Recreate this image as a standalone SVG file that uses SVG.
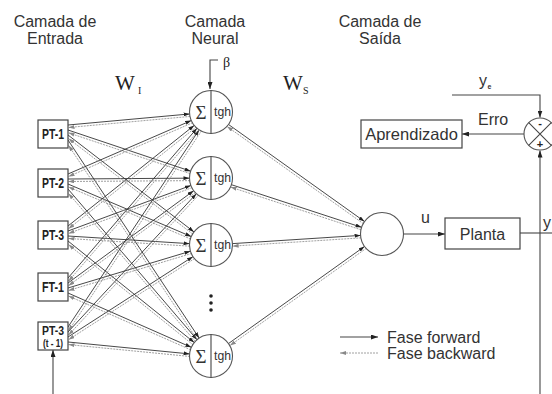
<svg xmlns="http://www.w3.org/2000/svg" width="552" height="394" viewBox="0 0 552 394">
<style>
.t{font-family:"Liberation Sans",Arial,sans-serif;fill:#333;font-size:16px}
.c{text-anchor:middle}
.box{fill:#fff;stroke:#444;stroke-width:1.2}
.lb{font-family:"Liberation Sans",Arial,sans-serif;font-weight:bold;fill:#222;text-anchor:middle}
.f{stroke:#333;stroke-width:0.9;fill:none;marker-end:url(#mf)}
.b{stroke:#888;stroke-width:0.8;stroke-dasharray:2 1;fill:none;marker-end:url(#mb)}
.bo{stroke:#888;stroke-width:0.8;stroke-dasharray:2 1;fill:none;marker-end:url(#mbo)}
.ln{stroke:#444;stroke-width:1.1;fill:none}
.ar{marker-end:url(#ah)}
.neu{fill:#fff;stroke:#555;stroke-width:1.1}
.sig{font-family:"Liberation Serif","Times New Roman",serif;font-size:19px;fill:#333;text-anchor:middle}
.tgh{font-family:"Liberation Sans",Arial,sans-serif;font-size:12px;fill:#333}
.w{font-family:"Liberation Serif","Times New Roman",serif;fill:#222}
</style>
<defs>
<marker id="mf" markerUnits="userSpaceOnUse" markerWidth="6" markerHeight="4" viewBox="0 0 6 4" refX="27.5" refY="2" orient="auto"><path d="M0,0 L6,2 L0,4 z" fill="#222"/></marker>
<marker id="mbo" markerUnits="userSpaceOnUse" markerWidth="6" markerHeight="4" viewBox="0 0 6 4" refX="27.5" refY="2" orient="auto"><path d="M0,0 L6,2 L0,4 z" fill="#888"/></marker>
<marker id="mb" markerUnits="userSpaceOnUse" markerWidth="6" markerHeight="4" viewBox="0 0 6 4" refX="6" refY="2" orient="auto"><path d="M0,0 L6,2 L0,4 z" fill="#888"/></marker>
<marker id="ah" markerUnits="userSpaceOnUse" markerWidth="7" markerHeight="5" viewBox="0 0 7 5" refX="7" refY="2.5" orient="auto"><path d="M0,0 L7,2.5 L0,5 z" fill="#222"/></marker>
</defs>
<rect width="552" height="394" fill="#fff"/>

<g id="titles">
<text class="t c" x="55" y="27">Camada de</text>
<text class="t c" x="55" y="44">Entrada</text>
<text class="t c" x="215" y="27">Camada</text>
<text class="t c" x="215" y="44">Neural</text>
<text class="t c" x="380" y="27">Camada de</text>
<text class="t c" x="380" y="44">Saída</text>
<text class="w" x="115" y="90" font-size="21">W</text>
<text class="w" x="138" y="94" font-size="10">I</text>
<text class="w" x="283" y="90" font-size="21">W</text>
<text class="w" x="303" y="94" font-size="10">S</text>
</g>

<g id="connectors">
<line class="f" x1="68" y1="125" x2="211" y2="112"/>
<line class="f" x1="68" y1="130" x2="211" y2="178"/>
<line class="f" x1="68" y1="135" x2="211" y2="245"/>
<line class="f" x1="68" y1="140" x2="211" y2="356"/>
<line class="f" x1="68" y1="174" x2="211" y2="112"/>
<line class="f" x1="68" y1="179" x2="211" y2="178"/>
<line class="f" x1="68" y1="184" x2="211" y2="245"/>
<line class="f" x1="68" y1="189" x2="211" y2="356"/>
<line class="f" x1="68" y1="226" x2="211" y2="112"/>
<line class="f" x1="68" y1="231" x2="211" y2="178"/>
<line class="f" x1="68" y1="236" x2="211" y2="245"/>
<line class="f" x1="68" y1="241" x2="211" y2="356"/>
<line class="f" x1="68" y1="278" x2="211" y2="112"/>
<line class="f" x1="68" y1="283" x2="211" y2="178"/>
<line class="f" x1="68" y1="288" x2="211" y2="245"/>
<line class="f" x1="68" y1="293" x2="211" y2="356"/>
<line class="f" x1="68" y1="327" x2="211" y2="112"/>
<line class="f" x1="68" y1="332" x2="211" y2="178"/>
<line class="f" x1="68" y1="337" x2="211" y2="245"/>
<line class="f" x1="68" y1="342" x2="211" y2="356"/>
<line class="b" x1="211.2" y1="114.5" x2="68.5" y2="127.5"/>
<line class="b" x1="210.2" y1="180.4" x2="68.5" y2="132.8"/>
<line class="b" x1="209.5" y1="247" x2="68.5" y2="138.5"/>
<line class="b" x1="208.9" y1="357.4" x2="68.5" y2="145.3"/>
<line class="b" x1="212" y1="114.3" x2="68.5" y2="176.5"/>
<line class="b" x1="211" y1="180.5" x2="68.5" y2="181.5"/>
<line class="b" x1="210" y1="247.3" x2="68.5" y2="186.9"/>
<line class="b" x1="209.1" y1="357.6" x2="68.5" y2="193.4"/>
<line class="b" x1="212.6" y1="114" x2="68.5" y2="228.8"/>
<line class="b" x1="211.9" y1="180.3" x2="68.5" y2="233.5"/>
<line class="b" x1="210.8" y1="247.5" x2="68.5" y2="238.5"/>
<line class="b" x1="209.4" y1="358" x2="68.5" y2="244.6"/>
<line class="b" x1="212.9" y1="113.6" x2="68.5" y2="281.2"/>
<line class="b" x1="212.5" y1="180" x2="68.5" y2="285.7"/>
<line class="b" x1="211.7" y1="247.4" x2="68.5" y2="290.5"/>
<line class="b" x1="210" y1="358.3" x2="68.5" y2="296"/>
<line class="b" x1="213.1" y1="113.4" x2="68.5" y2="330.8"/>
<line class="b" x1="212.8" y1="179.7" x2="68.5" y2="335.1"/>
<line class="b" x1="212.4" y1="247.1" x2="68.5" y2="339.7"/>
<line class="b" x1="210.8" y1="358.5" x2="68.5" y2="344.6"/>
<line class="f" x1="211" y1="112" x2="382" y2="234"/>
<line class="f" x1="211" y1="178" x2="382" y2="234"/>
<line class="f" x1="211" y1="245" x2="382" y2="234"/>
<line class="f" x1="211" y1="356" x2="382" y2="234"/>
<line class="bo" x1="380.6" y1="236" x2="209.6" y2="114"/>
<line class="bo" x1="381.2" y1="236.4" x2="210.2" y2="180.4"/>
<line class="bo" x1="382.2" y1="236.5" x2="211.2" y2="247.5"/>
<line class="bo" x1="383.5" y1="236" x2="212.5" y2="358"/>
<path class="ln ar" d="M218,60 H210 V89"/>
<path class="ln ar" d="M403.5,234 H445"/>
<path class="ln" d="M520,233 H552"/>
<path class="ln ar" d="M452,95 H540 V117.5"/>
<path class="ln ar" d="M524,134 H462"/>
<path class="ln ar" d="M540,394 V150.5"/>
<path class="ln ar" d="M53,394 V350"/>
</g>

<g id="n1"><circle class="neu" cx="211" cy="112" r="21.5"/><line class="ln" x1="211" y1="90.5" x2="211" y2="133.5"/><text class="sig" x="201" y="119">Σ</text><text class="tgh" x="214" y="116" textLength="17" lengthAdjust="spacingAndGlyphs">tgh</text></g>
<g id="n2"><circle class="neu" cx="211" cy="178" r="21.5"/><line class="ln" x1="211" y1="156.5" x2="211" y2="199.5"/><text class="sig" x="201" y="185">Σ</text><text class="tgh" x="214" y="182" textLength="17" lengthAdjust="spacingAndGlyphs">tgh</text></g>
<g id="n3"><circle class="neu" cx="211" cy="245" r="21.5"/><line class="ln" x1="211" y1="223.5" x2="211" y2="266.5"/><text class="sig" x="201" y="252">Σ</text><text class="tgh" x="214" y="249" textLength="17" lengthAdjust="spacingAndGlyphs">tgh</text></g>
<g id="n4"><circle class="neu" cx="211" cy="356" r="21.5"/><line class="ln" x1="211" y1="334.5" x2="211" y2="377.5"/><text class="sig" x="201" y="363">Σ</text><text class="tgh" x="214" y="360" textLength="17" lengthAdjust="spacingAndGlyphs">tgh</text></g>
<g id="dots" fill="#222"><circle cx="211" cy="296" r="1.8"/><circle cx="211" cy="303" r="1.8"/><circle cx="211" cy="310" r="1.8"/></g>
<g id="beta"><text class="w" x="223" y="67" font-size="14">β</text></g>

<g id="pt1"><rect class="box" x="38" y="120" width="30" height="28"/><text class="lb" x="53" y="139" font-size="14" textLength="22" lengthAdjust="spacingAndGlyphs">PT-1</text></g>
<g id="pt2"><rect class="box" x="38" y="169" width="30" height="28"/><text class="lb" x="53" y="188" font-size="14" textLength="22" lengthAdjust="spacingAndGlyphs">PT-2</text></g>
<g id="pt3"><rect class="box" x="38" y="221" width="30" height="28"/><text class="lb" x="53" y="240" font-size="14" textLength="22" lengthAdjust="spacingAndGlyphs">PT-3</text></g>
<g id="ft1"><rect class="box" x="38" y="273" width="30" height="28"/><text class="lb" x="53" y="292" font-size="14" textLength="22" lengthAdjust="spacingAndGlyphs">FT-1</text></g>
<g id="pt3t1"><rect class="box" x="38" y="322" width="30" height="28"/><text class="lb" x="53" y="335" font-size="13" textLength="22" lengthAdjust="spacingAndGlyphs">PT-3</text><text class="lb" x="53" y="347" font-size="10" textLength="20" lengthAdjust="spacingAndGlyphs">(t - 1)</text></g>

<g id="out"><circle class="neu" cx="382" cy="234" r="21.5"/></g>
<g id="u"><text class="t" x="421" y="223">u</text></g>
<g id="planta"><rect class="box" x="445" y="218" width="75" height="31"/><text class="t c" x="482.5" y="240">Planta</text></g>
<g id="y"><text class="t" x="543" y="228">y</text></g>
<g id="aprendizado"><rect class="box" x="361" y="120" width="101" height="28"/><text class="t c" x="411.5" y="140" style="font-size:16.5px">Aprendizado</text></g>
<g id="erro"><text class="t" x="478" y="125">Erro</text></g>
<g id="ye"><text class="t" x="479" y="86">y</text><text class="t" x="487.5" y="89" style="font-size:7px;font-weight:bold">e</text></g>
<g id="sum"><circle class="neu" cx="540" cy="134" r="16"/><path class="ln" d="M528.7,122.7 L551.3,145.3 M551.3,122.7 L528.7,145.3" stroke="#999"/><text x="540" y="127" font-family="Liberation Sans,Arial,sans-serif" font-weight="bold" font-size="11" text-anchor="middle" fill="#222">-</text><text x="540" y="148" font-family="Liberation Sans,Arial,sans-serif" font-weight="bold" font-size="11" text-anchor="middle" fill="#222">+</text></g>

<g id="legend">
<path class="ln ar" d="M340,337 H378"/>
<line class="b" x1="378" y1="353" x2="340" y2="353"/>
<text class="t" x="387" y="343">Fase forward</text>
<text class="t" x="387" y="359">Fase backward</text>
</g>
</svg>
